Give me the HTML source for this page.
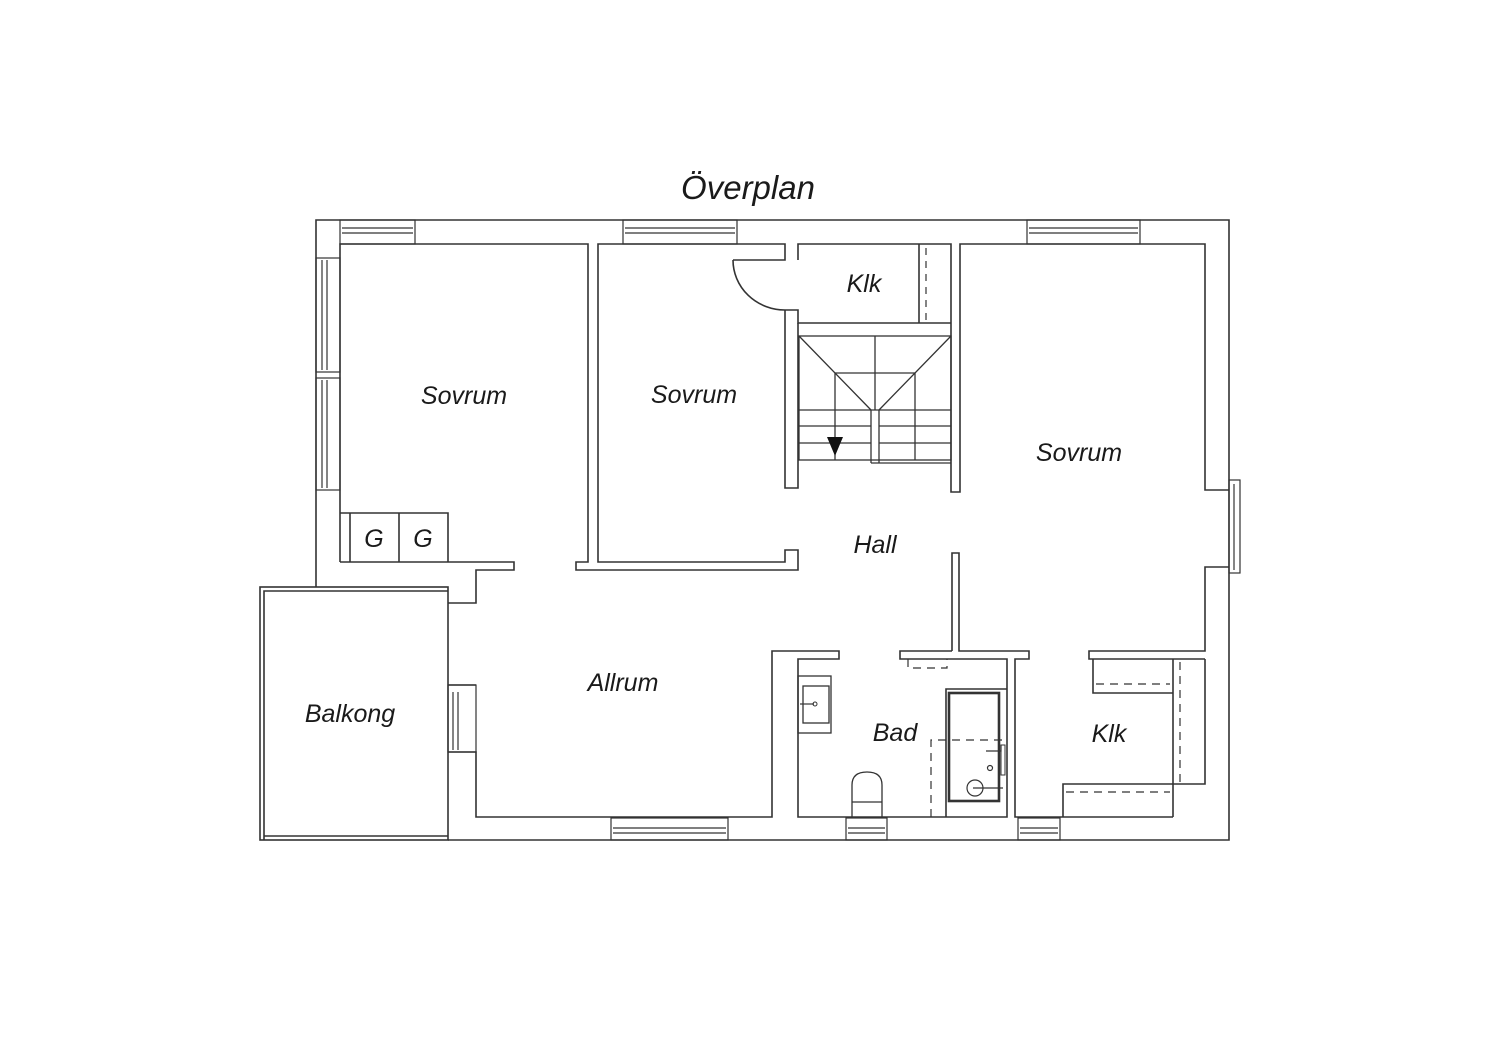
<!DOCTYPE html>
<html><head><meta charset="utf-8"><style>
html,body{margin:0;padding:0;background:#fff}
svg{display:block}
text{font-family:"Liberation Sans",sans-serif;font-style:italic;fill:#1a1a1a}
</style></head><body>
<svg width="1500" height="1060" viewBox="0 0 1500 1060" xmlns="http://www.w3.org/2000/svg">
<g fill="none" stroke="#333" stroke-width="1.6">
<polyline points="316,587 316,220 1229,220 1229,840 448,840"/>
<rect x="260" y="587" width="188" height="253"/>
<polyline points="264,840 264,591 448,591"/>
<line x1="264" y1="836" x2="448" y2="836"/>
<polyline points="340,562 340,244 588,244 588,562 576,562 576,570 798,570 798,550 785,550 785,562 598,562 598,244 785,244 785,260 733,260"/>
<polyline points="340,562 514,562 514,570 476,570 476,603 448,603"/>
<polyline points="340,513 448,513 448,562"/>
<line x1="350" y1="513" x2="350" y2="562"/>
<line x1="399" y1="513" x2="399" y2="562"/>
<path d="M733,260 A52,50 0 0 0 785,310"/>
<polyline points="785,310 798,310 798,323 951,323"/>
<polyline points="798,260 798,244 951,244 951,323"/>
<line x1="919" y1="244" x2="919" y2="323"/>
<line x1="926" y1="248" x2="926" y2="320" stroke-dasharray="7,6" stroke-width="1.2"/>
<polyline points="785,310 785,488 798,488 798,323"/>
<rect x="799" y="336" width="152" height="124" stroke-width="1.3"/>
<line x1="799" y1="336" x2="871" y2="410" stroke-width="1.3"/>
<line x1="951" y1="336" x2="879" y2="410" stroke-width="1.3"/>
<line x1="875" y1="336" x2="875" y2="410" stroke-width="1.3"/>
<line x1="835" y1="373" x2="915" y2="373" stroke-width="1.3"/>
<line x1="835" y1="373" x2="835" y2="460" stroke-width="1.3"/>
<line x1="915" y1="373" x2="915" y2="460" stroke-width="1.3"/>
<line x1="871" y1="410" x2="871" y2="463" stroke-width="1.3"/>
<line x1="879" y1="410" x2="879" y2="463" stroke-width="1.3"/>
<line x1="871" y1="463" x2="951" y2="463" stroke-width="1.3"/>
<line x1="799" y1="410" x2="951" y2="410" stroke-width="1.3"/>
<line x1="799" y1="426" x2="871" y2="426" stroke-width="1.3"/>
<line x1="879" y1="426" x2="951" y2="426" stroke-width="1.3"/>
<line x1="799" y1="443" x2="871" y2="443" stroke-width="1.3"/>
<line x1="879" y1="443" x2="951" y2="443" stroke-width="1.3"/>
<polyline points="951,323 951,492 960,492 960,244 1205,244 1205,490 1229,490"/>
<polyline points="1229,567 1205,567 1205,651 1089,651 1089,659 1205,659"/>
<polyline points="952,651 952,553 959,553 959,651 1029,651 1029,659 1015,659 1015,817 1173,817"/>
<polyline points="952,651 900,651 900,659 1007,659 1007,817 798,817 798,659 839,659 839,651 772,651 772,817 476,817 476,752 448,752"/>
<line x1="448" y1="685" x2="476" y2="685"/>
<polyline points="1205,659 1205,784 1173,784"/>
<polyline points="1093,659 1093,693 1173,693"/>
<line x1="1173" y1="659" x2="1173" y2="817"/>
<polyline points="1173,784 1063,784 1063,817"/>
<g stroke-dasharray="8,6" stroke-width="1.2">
<line x1="1096" y1="684" x2="1170" y2="684"/>
<line x1="1180" y1="662" x2="1180" y2="782"/>
<line x1="1066" y1="792" x2="1170" y2="792"/>
<polyline points="908,659 908,668 947,668 947,659"/>
<polyline points="931,817 931,740 1007,740"/>
</g>
<rect x="798" y="676" width="33" height="57" stroke-width="1.3"/>
<rect x="803" y="686" width="26" height="37" stroke-width="1.3"/>
<line x1="800" y1="704" x2="814" y2="704" stroke-width="1.2"/>
<circle cx="815" cy="704" r="2" stroke-width="1"/>
<polyline points="946,817 946,689 1007,689"/>
<rect x="949" y="693" width="50" height="108" stroke-width="2.6"/>
<circle cx="975" cy="788" r="8" stroke-width="1.2"/>
<circle cx="990" cy="768" r="2.5" stroke-width="1.2"/>
<line x1="973" y1="788" x2="1003" y2="788" stroke-width="1.2"/>
<polyline points="986,751 1001,751 1001,745" stroke-width="1.2"/>
<rect x="1001" y="745" width="4" height="30" stroke-width="1"/>
<path d="M852,817 L852,785 Q852,772 867,772 Q882,772 882,785 L882,817" stroke-width="1.3"/>
<line x1="852" y1="802" x2="882" y2="802" stroke-width="1.2"/>
<g stroke-width="1.2">
<rect x="340" y="220" width="75" height="24"/><line x1="342" y1="228" x2="413" y2="228"/><line x1="342" y1="233" x2="413" y2="233"/>
<rect x="623" y="220" width="114" height="24"/><line x1="625" y1="228" x2="735" y2="228"/><line x1="625" y1="233" x2="735" y2="233"/>
<rect x="1027" y="220" width="113" height="24"/><line x1="1029" y1="228" x2="1138" y2="228"/><line x1="1029" y1="233" x2="1138" y2="233"/>
<rect x="316" y="258" width="24" height="114"/><line x1="322" y1="260" x2="322" y2="370"/><line x1="327" y1="260" x2="327" y2="370"/>
<rect x="316" y="378" width="24" height="112"/><line x1="322" y1="380" x2="322" y2="488"/><line x1="327" y1="380" x2="327" y2="488"/>
<rect x="1229" y="480" width="11" height="93"/><line x1="1234" y1="484" x2="1234" y2="570"/>
<rect x="448" y="685" width="28" height="67"/><line x1="453" y1="692" x2="453" y2="750"/><line x1="458" y1="692" x2="458" y2="750"/>
<rect x="611" y="818" width="117" height="22"/><line x1="613" y1="828" x2="726" y2="828"/><line x1="613" y1="833" x2="726" y2="833"/>
<rect x="846" y="818" width="41" height="22"/><line x1="848" y1="828" x2="885" y2="828"/><line x1="848" y1="833" x2="885" y2="833"/>
<rect x="1018" y="818" width="42" height="22"/><line x1="1020" y1="828" x2="1058" y2="828"/><line x1="1020" y1="833" x2="1058" y2="833"/>
</g>
</g>
<polygon points="827,437 843,437 835,456" fill="#111"/>
<text x="748" y="199" font-size="33" text-anchor="middle">Överplan</text>
<g font-size="25" text-anchor="middle">
<text x="464" y="404">Sovrum</text>
<text x="694" y="403">Sovrum</text>
<text x="1079" y="461">Sovrum</text>
<text x="864" y="292">Klk</text>
<text x="875" y="553">Hall</text>
<text x="623" y="691">Allrum</text>
<text x="350" y="722">Balkong</text>
<text x="895" y="741">Bad</text>
<text x="1109" y="742">Klk</text>
<text x="374" y="547">G</text>
<text x="423" y="547">G</text>
</g>
</svg>
</body></html>
